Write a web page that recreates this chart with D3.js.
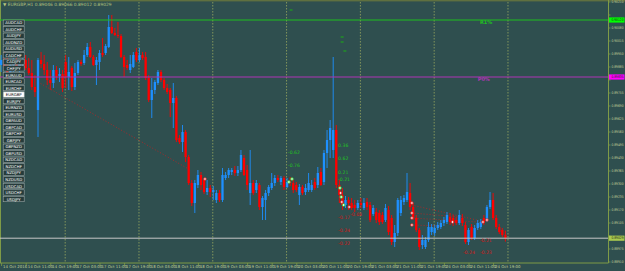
<!DOCTYPE html>
<html>
<head>
<meta charset="utf-8">
<script src="https://cdn.jsdelivr.net/npm/d3@7"></script>
<style>
  html, body { margin: 0; padding: 0; background: #2f4f4f; overflow: hidden; }
  text { font-family: "DejaVu Sans", "Liberation Sans", sans-serif; }
</style>
</head>
<body>
<div id="chart"></div>
<script>
// EURGBP H1, 14 Oct 2016 03:00 .. 24 Oct 2016 23:00
const symbols = ["AUDCAD","AUDCHF","AUDJPY","AUDNZD","AUDUSD","CADCHF","CADJPY","CHFJPY",
  "EURAUD","EURCAD","EURCHF","EURGBP","EURJPY","EURNZD","EURUSD","GBPAUD","GBPCAD","GBPCHF",
  "GBPJPY","GBPNZD","GBPUSD","NZDCAD","NZDCHF","NZDJPY","NZDUSD","USDCAD","USDCHF","USDJPY"];
const activeSymbol = "EURGBP";

const timeLabels = ["14 Oct 2016","14 Oct 11:00","14 Oct 19:00","17 Oct 03:00","17 Oct 11:00",
  "17 Oct 19:00","18 Oct 03:00","18 Oct 11:00","18 Oct 19:00","19 Oct 03:00","19 Oct 11:00",
  "19 Oct 19:00","20 Oct 03:00","20 Oct 11:00","20 Oct 19:00","21 Oct 03:00","21 Oct 11:00",
  "21 Oct 19:00","24 Oct 03:00","24 Oct 11:00","24 Oct 19:00"];
const timeLabelBars = [0,8,16,24,32,40,48,56,64,72,80,88,96,104,112,120,128,136,144,152,160];
const dayStartBars = [21,45,69,93,117,141,165];

const priceTicks = [0.90210,0.90145,0.90080,0.90015,0.89950,0.89885,0.89820,0.89755,0.89690,
  0.89625,0.89560,0.89495,0.89430,0.89365,0.89300,0.89235,0.89170,0.89105,0.89040,0.88975,0.88910];

const open = [0.89895,0.89920,0.89890,0.89845,0.89895,0.89910,0.89880,0.89900,0.89920,0.89880,
  0.89855,0.89785,0.89670,0.89920,0.89900,0.89870,0.89820,0.89805,0.89870,0.89840,
  0.89850,0.89910,0.89835,0.89880,0.89785,0.89855,0.89910,0.89905,0.89945,0.89985,
  0.89935,0.89895,0.89910,0.89955,0.89955,0.89985,0.90085,0.90055,0.90045,0.90040,
  0.89935,0.89895,0.89870,0.89885,0.89960,0.89920,0.89945,0.89935,0.89830,0.89720,
  0.89770,0.89805,0.89860,0.89820,0.89780,0.89770,0.89705,0.89730,0.89530,0.89510,
  0.89560,0.89435,0.89305,0.89205,0.89295,0.89345,0.89320,0.89260,0.89280,0.89260,
  0.89220,0.89255,0.89220,0.89330,0.89345,0.89360,0.89370,0.89355,0.89370,0.89430,
  0.89370,0.89255,0.89305,0.89270,0.89295,0.89185,0.89220,0.89255,0.89280,0.89305,
  0.89330,0.89310,0.89330,0.89285,0.89310,0.89305,0.89295,0.89245,0.89285,0.89260,
  0.89270,0.89270,0.89310,0.89295,0.89360,0.89310,0.89455,0.89520,0.89470,0.89570,
  0.89295,0.89245,0.89195,0.89220,0.89205,0.89195,0.89180,0.89205,0.89180,0.89210,
  0.89195,0.89150,0.89160,0.89155,0.89145,0.89120,0.89170,0.89130,0.89010,0.89055,
  0.89155,0.89210,0.89220,0.89255,0.89185,0.89130,0.89070,0.88995,0.88985,0.89020,
  0.89060,0.89055,0.89080,0.89085,0.89105,0.89110,0.89135,0.89130,0.89120,0.89105,
  0.89130,0.89095,0.89010,0.89085,0.89030,0.89080,0.89085,0.89130,0.89120,0.89185,
  0.89220,0.89130,0.89085,0.89070,0.89046];
const high = [0.89945,0.89960,0.89930,0.89910,0.89930,0.89945,0.89920,0.89940,0.89945,0.89930,
  0.89920,0.89845,0.89930,0.89960,0.89945,0.89910,0.89870,0.89895,0.89890,0.89880,
  0.89870,0.89945,0.89935,0.89890,0.89905,0.89920,0.89920,0.89970,0.90005,0.90010,
  0.89945,0.89935,0.89970,0.90030,0.90000,0.90145,0.90145,0.90080,0.90110,0.90050,
  0.89945,0.89920,0.89945,0.89960,0.89980,0.89980,0.89960,0.89960,0.89845,0.89830,
  0.89820,0.89870,0.89870,0.89830,0.89800,0.89780,0.89805,0.89740,0.89545,0.89595,
  0.89570,0.89445,0.89320,0.89320,0.89370,0.89360,0.89330,0.89320,0.89295,0.89290,
  0.89270,0.89270,0.89380,0.89360,0.89380,0.89380,0.89390,0.89390,0.89470,0.89445,
  0.89395,0.89470,0.89320,0.89320,0.89305,0.89240,0.89270,0.89295,0.89355,0.89345,
  0.89345,0.89340,0.89340,0.89330,0.89335,0.89320,0.89310,0.89300,0.89295,0.89300,
  0.89355,0.89320,0.89330,0.89385,0.89380,0.89470,0.89570,0.89620,0.89935,0.89595,
  0.89320,0.89280,0.89240,0.89235,0.89230,0.89220,0.89220,0.89230,0.89230,0.89230,
  0.89210,0.89195,0.89180,0.89170,0.89160,0.89200,0.89190,0.89145,0.89095,0.89230,
  0.89240,0.89245,0.89355,0.89305,0.89205,0.89145,0.89080,0.89045,0.89035,0.89110,
  0.89100,0.89095,0.89110,0.89120,0.89135,0.89160,0.89155,0.89145,0.89135,0.89170,
  0.89150,0.89110,0.89080,0.89100,0.89095,0.89120,0.89125,0.89145,0.89195,0.89260,
  0.89255,0.89145,0.89100,0.89080,0.89066];
const low = [0.89860,0.89880,0.89820,0.89820,0.89860,0.89870,0.89845,0.89870,0.89870,0.89845,
  0.89770,0.89735,0.89535,0.89880,0.89845,0.89795,0.89770,0.89780,0.89820,0.89810,
  0.89760,0.89780,0.89770,0.89765,0.89770,0.89845,0.89890,0.89895,0.89935,0.89930,
  0.89890,0.89795,0.89870,0.89935,0.89945,0.89980,0.90050,0.90040,0.90030,0.89930,
  0.89835,0.89870,0.89855,0.89880,0.89910,0.89910,0.89920,0.89820,0.89710,0.89630,
  0.89750,0.89795,0.89810,0.89770,0.89750,0.89635,0.89580,0.89510,0.89500,0.89460,
  0.89410,0.89295,0.89190,0.89155,0.89280,0.89270,0.89250,0.89245,0.89235,0.89220,
  0.89205,0.89210,0.89210,0.89320,0.89330,0.89345,0.89340,0.89340,0.89360,0.89340,
  0.89270,0.89195,0.89245,0.89255,0.89170,0.89120,0.89120,0.89240,0.89270,0.89290,
  0.89310,0.89295,0.89270,0.89280,0.89290,0.89255,0.89260,0.89195,0.89245,0.89245,
  0.89260,0.89260,0.89270,0.89280,0.89290,0.89295,0.89380,0.89430,0.89430,0.89280,
  0.89205,0.89170,0.89180,0.89170,0.89170,0.89160,0.89170,0.89180,0.89170,0.89170,
  0.89110,0.89140,0.89105,0.89095,0.89100,0.89110,0.89045,0.88995,0.88985,0.89040,
  0.89140,0.89195,0.89210,0.89170,0.89120,0.89060,0.88970,0.88975,0.88975,0.89010,
  0.89045,0.89040,0.89070,0.89075,0.89090,0.89100,0.89095,0.89090,0.89095,0.89095,
  0.89090,0.89000,0.88995,0.89020,0.89020,0.89070,0.89075,0.89095,0.89110,0.89175,
  0.89120,0.89075,0.89050,0.89035,0.89012];
const close = [0.89920,0.89890,0.89845,0.89895,0.89910,0.89880,0.89900,0.89920,0.89880,0.89855,
  0.89785,0.89760,0.89920,0.89900,0.89870,0.89820,0.89805,0.89870,0.89840,0.89850,
  0.89780,0.89835,0.89860,0.89785,0.89855,0.89910,0.89900,0.89945,0.89985,0.89935,
  0.89895,0.89920,0.89955,0.89945,0.89990,0.90085,0.90055,0.90045,0.90040,0.89935,
  0.89885,0.89880,0.89900,0.89945,0.89920,0.89945,0.89930,0.89830,0.89720,0.89770,
  0.89810,0.89860,0.89820,0.89780,0.89760,0.89705,0.89730,0.89520,0.89510,0.89560,
  0.89435,0.89305,0.89205,0.89305,0.89345,0.89295,0.89260,0.89280,0.89260,0.89270,
  0.89255,0.89220,0.89345,0.89345,0.89370,0.89370,0.89355,0.89370,0.89445,0.89345,
  0.89295,0.89305,0.89255,0.89305,0.89185,0.89230,0.89255,0.89285,0.89305,0.89330,
  0.89320,0.89330,0.89285,0.89310,0.89305,0.89270,0.89270,0.89285,0.89255,0.89280,
  0.89305,0.89295,0.89280,0.89355,0.89295,0.89455,0.89520,0.89580,0.89570,0.89295,
  0.89245,0.89195,0.89220,0.89205,0.89180,0.89180,0.89205,0.89195,0.89205,0.89185,
  0.89120,0.89180,0.89120,0.89110,0.89110,0.89180,0.89060,0.89010,0.89055,0.89220,
  0.89220,0.89230,0.89260,0.89185,0.89130,0.89070,0.88985,0.89020,0.89020,0.89085,
  0.89085,0.89080,0.89095,0.89105,0.89120,0.89145,0.89110,0.89105,0.89105,0.89145,
  0.89105,0.89010,0.89070,0.89030,0.89080,0.89105,0.89110,0.89105,0.89185,0.89220,
  0.89130,0.89085,0.89060,0.89045,0.89029];

// horizontal objects
const levelPrices = [0.90120, 0.89835];
const levelColors = ["#1fc01f", "#b035b5"];
const levelBoxColors = ["#00ff00", "#ff00ff"];
const levelNames = ["R1%", "P0%"];
const levelNameBars = [155.7, 155];
const bidPrice = 0.89029;

// indicator notes: [bar, price, text, colour]
const notes = [
  [93.3, 0.89460, "-0.62", "#22c022"], [93.3, 0.89395, "-0.76", "#22c022"],
  [109.6, 0.89495, "0.36", "#22c022"], [109.6, 0.89430, "0.62", "#22c022"],
  [109.6, 0.89360, "0.21", "#22c022"], [109.6, 0.89325, "-0.21", "#22c022"],
  [109.6, 0.89135, "-0.17", "#d01818"], [113.5, 0.89150, "-0.08", "#d01818"],
  [109.6, 0.89070, "-0.24", "#d01818"], [109.6, 0.89005, "-0.22", "#d01818"],
  [155.7, 0.89020, "-0.21", "#d01818"], [150.2, 0.88960, "-0.24", "#d01818"],
  [155.7, 0.88960, "-0.23", "#d01818"]
];
// swing markers: [bar, price, colour]
const markers = [
  [66.3, 0.89325, "#e02020"], [93.6, 0.89310, "#30d030"], [94.6, 0.89325, "#30d030"],
  [110.2, 0.89280, "#30d030"], [110.4, 0.89255, "#e02020"], [110.6, 0.89235, "#30d030"],
  [110.8, 0.89210, "#e02020"], [111.4, 0.89195, "#30d030"], [113.2, 0.89185, "#e02020"],
  [133.6, 0.89205, "#e02020"], [133.6, 0.89155, "#e02020"], [133.6, 0.89130, "#e02020"],
  [133.6, 0.89095, "#e02020"], [146.8, 0.89110, "#e02020"], [156.7, 0.89110, "#e02020"],
  [158.0, 0.89120, "#e02020"]
];
// dotted red trend lines: [bar0, price0, bar1, price1]
const trendLines = [
  [12.0, 0.89810, 61.5, 0.89370],
  [133.5, 0.89195, 154.7, 0.89120],
  [133.5, 0.89155, 149.3, 0.89135],
  [133.5, 0.89130, 155.1, 0.89110],
  [133.5, 0.89095, 142.7, 0.89090]
];
// small green ticks from the indicator
const greenTicks = [[94.3, 0.90170], [110.9, 0.90035], [110.9, 0.90010], [111.8, 0.89965]];

const W = 625, H = 271;
const plotRight = 608.5, plotBottom = 263;
const bull = "#1e90ff", bear = "#ff0000";
const axisColor = "#7f9b47", textColor = "#c4d29a", sepColor = "#8c9e5e";

const svg = d3.select("#chart").append("svg")
  .attr("width", W).attr("height", H)
  .style("display", "block");

svg.append("rect").attr("width", W).attr("height", H).attr("fill", "#2f4f4f");

const x = d3.scaleLinear().domain([0, open.length - 1]).range([1.1, 505.4]);
const y = d3.scaleLinear().domain([0.88905, 0.90220]).range([plotBottom, 0]);

// frame
svg.append("rect").attr("x", 0).attr("y", 0).attr("width", W).attr("height", 1.4).attr("fill", "#5f7040");
svg.append("line").attr("x1", 0.5).attr("x2", 0.5).attr("y1", 0).attr("y2", plotBottom)
  .attr("stroke", axisColor).attr("stroke-width", 1);

// day separators
svg.append("g").selectAll("line").data(dayStartBars).join("line")
  .attr("x1", d => x(d) - 0.5).attr("x2", d => x(d) - 0.5)
  .attr("y1", 2).attr("y2", plotBottom)
  .attr("stroke", sepColor).attr("stroke-width", 0.9).attr("stroke-dasharray", "1.5,1.5");

// dotted trend lines
svg.append("g").selectAll("line").data(trendLines).join("line")
  .attr("x1", d => x(d[0])).attr("y1", d => y(d[1]))
  .attr("x2", d => x(d[2])).attr("y2", d => y(d[3]))
  .attr("stroke", "#c42020").attr("stroke-width", 0.8).attr("stroke-dasharray", "1,2");

// candles
const bars = d3.range(open.length).map(i => ({ i, o: open[i], h: high[i], l: low[i], c: close[i] }));
const cg = svg.append("g");
cg.selectAll("line").data(bars).join("line")
  .attr("x1", d => x(d.i)).attr("x2", d => x(d.i))
  .attr("y1", d => y(d.h)).attr("y2", d => y(d.l))
  .attr("stroke", d => d.c >= d.o ? bull : bear).attr("stroke-width", 0.9);
cg.selectAll("rect").data(bars).join("rect")
  .attr("x", d => x(d.i) - 1.15).attr("width", 2.3)
  .attr("y", d => y(Math.max(d.o, d.c)))
  .attr("height", d => Math.max(0.8, Math.abs(y(d.o) - y(d.c))))
  .attr("fill", d => d.c >= d.o ? bull : bear);

// level lines
svg.append("g").selectAll("line").data(levelPrices).join("line")
  .attr("x1", 0).attr("x2", plotRight)
  .attr("y1", d => y(d)).attr("y2", d => y(d))
  .attr("stroke", (d, k) => levelColors[k]).attr("stroke-width", 1.1);
svg.append("g").selectAll("text").data(levelPrices).join("text")
  .attr("x", (d, k) => x(levelNameBars[k])).attr("y", d => y(d) + 4)
  .attr("fill", (d, k) => levelColors[k]).attr("font-size", 5).attr("font-weight", "bold")
  .text((d, k) => levelNames[k]);
svg.append("line").attr("x1", 0).attr("x2", plotRight)
  .attr("y1", y(bidPrice)).attr("y2", y(bidPrice))
  .attr("stroke", "#c8c8c8").attr("stroke-width", 1);

// markers
svg.append("g").selectAll("circle").data(markers).join("circle")
  .attr("cx", d => x(d[0])).attr("cy", d => y(d[1])).attr("r", 1.3)
  .attr("fill", "#ffffff").attr("stroke", d => d[2]).attr("stroke-width", 0.8);

svg.append("g").selectAll("rect").data(greenTicks).join("rect")
  .attr("x", d => x(d[0]) - 1.5).attr("y", d => y(d[1]) - 0.6)
  .attr("width", 3).attr("height", 1.2).attr("fill", "#1ea01e");

// notes
svg.append("g").selectAll("text").data(notes).join("text")
  .attr("x", d => x(d[0])).attr("y", d => y(d[1]))
  .attr("dominant-baseline", "central")
  .attr("font-size", 4.6).attr("fill", d => d[3])
  .text(d => d[2]);

// right price axis
const boxPrices = levelPrices.concat([bidPrice]);
const boxFill = levelBoxColors.concat(["#a9c94f"]);
const freeTicks = priceTicks.filter(t => boxPrices.every(b => Math.abs(y(t) - y(b)) > 5.5));

const ra = svg.append("g");
ra.append("line").attr("x1", plotRight).attr("x2", plotRight).attr("y1", 0).attr("y2", plotBottom)
  .attr("stroke", axisColor).attr("stroke-width", 1);
ra.selectAll("line.t").data(priceTicks).join("line").attr("class", "t")
  .attr("x1", plotRight).attr("x2", plotRight + 2)
  .attr("y1", d => y(d)).attr("y2", d => y(d))
  .attr("stroke", axisColor).attr("stroke-width", 0.8);
ra.selectAll("text").data(freeTicks).join("text")
  .attr("x", 611.5).attr("y", d => y(d)).attr("dominant-baseline", "central")
  .attr("font-size", 3.6).attr("fill", textColor)
  .attr("textLength", 12).attr("lengthAdjust", "spacingAndGlyphs")
  .text(d => d.toFixed(5));

// highlighted price boxes
const hb = svg.append("g");
hb.selectAll("rect").data(boxPrices).join("rect")
  .attr("x", plotRight + 0.5).attr("y", d => y(d) - 2.6)
  .attr("width", W - plotRight - 1).attr("height", 5.2)
  .attr("fill", (d, k) => boxFill[k]);
hb.selectAll("text").data(boxPrices).join("text")
  .attr("x", 611.5).attr("y", d => y(d)).attr("dominant-baseline", "central")
  .attr("font-size", 3.6).attr("fill", "#1a2a1a")
  .attr("textLength", 12).attr("lengthAdjust", "spacingAndGlyphs")
  .text(d => d.toFixed(5));

// bottom time axis
const ba = svg.append("g");
ba.append("line").attr("x1", 0).attr("x2", plotRight).attr("y1", plotBottom).attr("y2", plotBottom)
  .attr("stroke", axisColor).attr("stroke-width", 1);
ba.selectAll("line.t").data(timeLabelBars).join("line").attr("class", "t")
  .attr("x1", d => x(d) + 0.5).attr("x2", d => x(d) + 0.5)
  .attr("y1", plotBottom).attr("y2", plotBottom + 3)
  .attr("stroke", axisColor).attr("stroke-width", 0.8);
ba.selectAll("text").data(timeLabelBars).join("text")
  .attr("x", d => x(d) + 2).attr("y", 266.8).attr("dominant-baseline", "central")
  .attr("font-size", 3.9).attr("fill", textColor)
  .text((d, k) => timeLabels[k]);

// header
svg.append("text").attr("x", 3).attr("y", 4.2).attr("dominant-baseline", "central")
  .attr("font-size", 4.4).attr("fill", "#b4c47e")
  .text("\u25BC EURGBP,H1  " + [open, high, low, close].map(a => a[a.length - 1].toFixed(5)).join(" "));

// symbol buttons
const sb = svg.append("g");
const btn = sb.selectAll("g").data(symbols).join("g")
  .attr("transform", (d, k) => `translate(3.2,${20 + k * 6.53})`);
btn.append("rect").attr("width", 21).attr("height", 5.4)
  .attr("fill", d => d === activeSymbol ? "#ffffff" : "#263b3b")
  .attr("stroke", "#9aa6a6").attr("stroke-width", 0.6);
btn.append("text").attr("x", 10.5).attr("y", 2.8).attr("text-anchor", "middle")
  .attr("dominant-baseline", "central").attr("font-size", 3.9)
  .attr("fill", d => d === activeSymbol ? "#000000" : "#ffffff")
  .text(d => d);
</script>
</body>
</html>
